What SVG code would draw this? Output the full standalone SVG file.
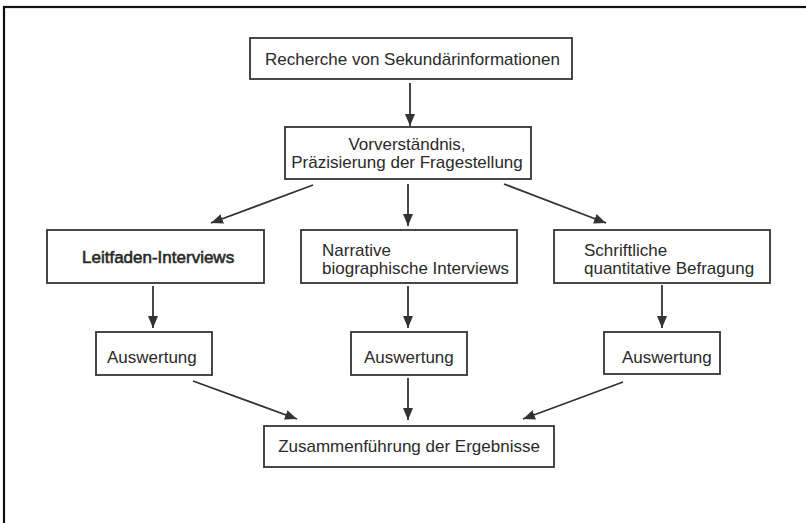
<svg xmlns="http://www.w3.org/2000/svg" width="806" height="523" viewBox="0 0 806 523">
  <defs>
    <marker id="ah" markerUnits="userSpaceOnUse" markerWidth="13" markerHeight="11" refX="12" refY="5" orient="auto">
      <path d="M0,0 L12,5 L0,10 z" fill="#333"/>
    </marker>
    <style>
      .box { fill: #fff; stroke: #333; stroke-width: 1.8; }
      .t { font-family: "Liberation Sans", Arial, sans-serif; font-size: 17px; fill: #2a2a2a; }
      .c { text-anchor: middle; }
      .heavy { stroke: #2a2a2a; stroke-width: 0.6; }
      .con line { stroke: #333; stroke-width: 1.8; marker-end: url(#ah); }
    </style>
  </defs>
  <rect x="0" y="0" width="806" height="523" fill="#fff"/>
  <rect id="frame" x="4" y="7" width="820" height="530" fill="none" stroke="#111" stroke-width="2.2"/>

  <g id="n1">
    <rect class="box" x="250" y="38" width="322" height="41"/>
    <text class="t" x="265" y="65">Recherche von Sekundärinformationen</text>
  </g>
  <g id="n2">
    <rect class="box" x="285" y="127" width="246" height="52"/>
    <text class="t c" x="407" y="150">Vorverständnis,</text>
    <text class="t c" x="407" y="168">Präzisierung der Fragestellung</text>
  </g>
  <g id="n3">
    <rect class="box" x="47" y="230" width="217" height="53"/>
    <text class="t heavy" x="82" y="263">Leitfaden-Interviews</text>
  </g>
  <g id="n4">
    <rect class="box" x="301" y="230" width="216" height="53"/>
    <text class="t" x="322" y="256">Narrative</text>
    <text class="t" x="322" y="274">biographische Interviews</text>
  </g>
  <g id="n5">
    <rect class="box" x="554" y="230" width="216" height="53"/>
    <text class="t" x="584" y="256">Schriftliche</text>
    <text class="t" x="584" y="274">quantitative Befragung</text>
  </g>
  <g id="n6">
    <rect class="box" x="96" y="332" width="116" height="43"/>
    <text class="t" x="107" y="363">Auswertung</text>
  </g>
  <g id="n7">
    <rect class="box" x="351" y="332" width="116" height="43"/>
    <text class="t" x="364" y="363">Auswertung</text>
  </g>
  <g id="n8">
    <rect class="box" x="604" y="332" width="116" height="42"/>
    <text class="t" x="622" y="363">Auswertung</text>
  </g>
  <g id="n9">
    <rect class="box" x="264" y="426" width="290" height="41"/>
    <text class="t c" x="409" y="452">Zusammenführung der Ergebnisse</text>
  </g>

  <g id="connectors" class="con">
    <line x1="410" y1="83" x2="410" y2="126"/>
    <line x1="313" y1="185" x2="211" y2="223"/>
    <line x1="408" y1="184" x2="408" y2="226"/>
    <line x1="504" y1="184" x2="606" y2="223"/>
    <line x1="153" y1="286" x2="153" y2="328"/>
    <line x1="408" y1="286" x2="408" y2="328"/>
    <line x1="662" y1="285" x2="662" y2="328"/>
    <line x1="193" y1="381" x2="297" y2="419"/>
    <line x1="408" y1="378" x2="408" y2="420"/>
    <line x1="623" y1="382" x2="523" y2="419"/>
  </g>
</svg>
